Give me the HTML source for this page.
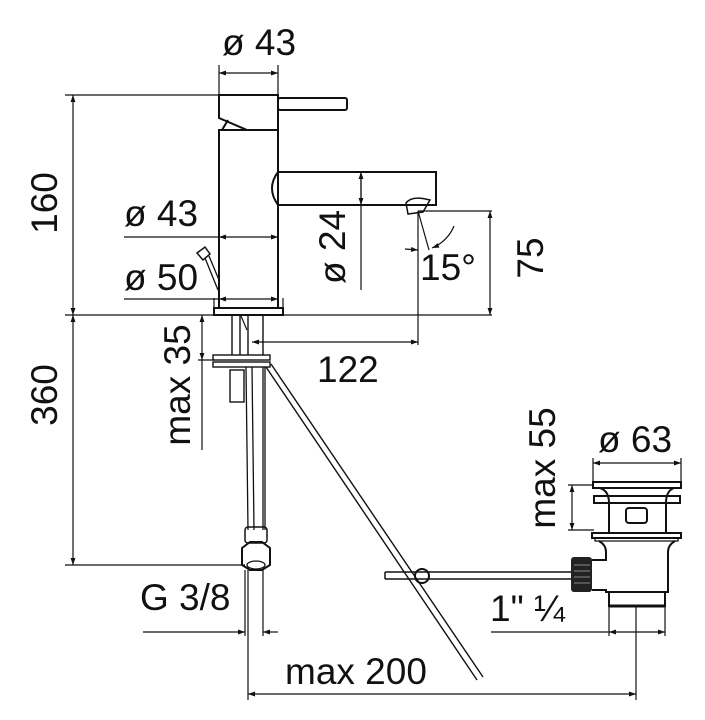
<!DOCTYPE html>
<html><head><meta charset="utf-8"><style>
html,body{margin:0;padding:0;background:#fff;}
svg{display:block;}
text{font-family:"Liberation Sans",sans-serif;fill:#111;font-size:37px;}
</style></head><body>
<svg width="705" height="720" viewBox="0 0 705 720" xmlns="http://www.w3.org/2000/svg">
<defs>
<marker id="a" viewBox="0 0 10 10" refX="10" refY="5" markerWidth="10" markerHeight="7" orient="auto-start-reverse" markerUnits="userSpaceOnUse"><path d="M0,1.5 L10,5 L0,8.5 z" fill="#111"/></marker>
</defs>
<g stroke="#111" fill="none" stroke-width="1.2">
<!-- extension lines -->
<line x1="65" y1="95" x2="219" y2="95"/>
<line x1="65" y1="315" x2="492" y2="315"/>
<line x1="65" y1="565" x2="245" y2="565"/>
<line x1="219" y1="65" x2="219" y2="95"/>
<line x1="278" y1="65" x2="278" y2="95"/>
<line x1="418" y1="211" x2="492" y2="211"/>
<line x1="418" y1="211" x2="418" y2="345"/>
<line x1="214" y1="298" x2="214" y2="308"/>
<line x1="283" y1="298" x2="283" y2="308"/>
<line x1="198" y1="360" x2="215" y2="360"/>
<line x1="202" y1="360" x2="202" y2="450"/>
<line x1="245" y1="570" x2="245" y2="636"/>
<line x1="263" y1="570" x2="263" y2="636"/>
<line x1="248" y1="570" x2="248" y2="700"/>
<line x1="636" y1="607" x2="636" y2="700"/>
<line x1="609" y1="607" x2="609" y2="636"/>
<line x1="665" y1="607" x2="665" y2="636"/>
<line x1="568" y1="485" x2="594" y2="485"/>
<line x1="568" y1="530" x2="594" y2="530"/>
<line x1="593" y1="458" x2="593" y2="482"/>
<line x1="681" y1="458" x2="681" y2="482"/>
<!-- dimension lines -->
<line x1="219" y1="73" x2="278" y2="73" marker-start="url(#a)" marker-end="url(#a)"/>
<line x1="73" y1="95" x2="73" y2="315" marker-start="url(#a)" marker-end="url(#a)"/>
<line x1="73" y1="315" x2="73" y2="565" marker-start="url(#a)" marker-end="url(#a)"/>
<line x1="124" y1="237" x2="219" y2="237"/>
<line x1="219" y1="237" x2="278" y2="237" marker-start="url(#a)" marker-end="url(#a)"/>
<line x1="124" y1="299" x2="219" y2="299"/>
<line x1="219" y1="299" x2="278" y2="299" marker-start="url(#a)" marker-end="url(#a)"/>
<line x1="361" y1="172" x2="361" y2="290"/>
<line x1="361" y1="172" x2="361" y2="205" marker-start="url(#a)" marker-end="url(#a)"/>
<line x1="490" y1="211" x2="490" y2="315" marker-start="url(#a)" marker-end="url(#a)"/>
<line x1="202" y1="315" x2="202" y2="360" marker-start="url(#a)" marker-end="url(#a)"/>
<line x1="252" y1="342" x2="418" y2="342" marker-start="url(#a)" marker-end="url(#a)"/>
<line x1="143" y1="632" x2="245" y2="632" marker-end="url(#a)"/>
<line x1="263" y1="632" x2="278" y2="632" marker-start="url(#a)"/>
<line x1="248" y1="694" x2="636" y2="694" marker-start="url(#a)" marker-end="url(#a)"/>
<line x1="491" y1="632" x2="609" y2="632"/>
<line x1="609" y1="632" x2="665" y2="632" marker-start="url(#a)" marker-end="url(#a)"/>
<line x1="572" y1="485" x2="572" y2="530" marker-start="url(#a)" marker-end="url(#a)"/>
<line x1="593" y1="463" x2="681" y2="463" marker-start="url(#a)" marker-end="url(#a)"/>
<!-- 15 deg -->
<line x1="418" y1="211" x2="429" y2="250"/>
<path d="M454,226 A40,40 0 0 1 432,248" marker-end="url(#a)"/>
<line x1="405" y1="249" x2="418" y2="250" marker-end="url(#a)"/>
</g>
<g stroke="#111" fill="none" stroke-width="2">
<!-- tap -->
<path d="M219,95 L278,95 L278,130 L247,130 L219,118 Z"/>
<path d="M222,130 L228,120"/>
<rect x="278" y="98" width="69" height="12" rx="2"/>
<rect x="219" y="130" width="59" height="178"/>
<rect x="214" y="308" width="69" height="7"/>
<path d="M278,172 L436,172 L436,205 L278,205"/>
<path d="M278,172 Q266,188 278,205"/>
<path d="M406,203 Q412,195 430,200 L423,212 L408,214 Z" stroke-width="1.5"/>
<!-- side valve -->
<path d="M197,253 L205,247 L210,254 L203,260 Z" stroke-width="1.5"/>
<path d="M205,258 L218,290 M209,256 L219,280" stroke-width="1.3"/>
<!-- under parts -->
<path d="M232,315 L232,355 M240,315 L240,355 M248,315 L248,355 M263,315 L263,355" stroke-width="1.4"/>
<path d="M241,316 L247,330" stroke-width="1.2"/>
<rect x="213" y="355" width="57" height="5" stroke-width="1.4"/>
<rect x="213" y="362" width="57" height="5" stroke-width="1.4"/>
<rect x="230" y="370" width="14" height="32" stroke-width="1.4"/>
<path d="M246,367 L248,530 M252,367 L254,530 M263,367 L263,530 M265,367 L265,530" stroke-width="1.3"/>
<rect x="245" y="527" width="22" height="16" rx="3" stroke-width="1.5"/>
<path d="M242,548 L250,542 L262,542 L270,548 L270,565 L262,570 L250,570 L242,565 Z" stroke-width="2"/>
<ellipse cx="256" cy="565" rx="9" ry="4" stroke-width="1.3"/>
<!-- diagonal rod -->
<path d="M266,367 L477,680 M271,364 L483,677" stroke-width="1.4"/>
<!-- horizontal rod -->
<path d="M385,572 L572,572 M385,579 L572,579 M385,572 L385,579" stroke-width="1.5"/>
<circle cx="422" cy="576" r="7" stroke-width="2"/>
<!-- drain -->
<rect x="593" y="482" width="88" height="6"/>
<path d="M600,488 Q609,491 609,503 M674,488 Q666,491 666,503"/>
<rect x="594" y="496" width="86" height="7"/>
<path d="M609,503 L609,533 M666,503 L666,533"/>
<rect x="626" y="508" width="21" height="15" rx="3"/>
<rect x="592" y="533" width="89" height="5"/>
<path d="M595,538 L678,538 L678,541 L595,541 Z" stroke-width="1.3"/>
<path d="M599,541 Q606,545 606,552 L606,560 L592,560 M592,590 L606,590 L606,592 L668,592 L668,552 Q668,545 675,541"/>
<rect x="609" y="592" width="56" height="14"/>
<line x1="609" y1="606" x2="665" y2="606" stroke-width="3"/>
</g>
<rect x="571" y="557" width="21" height="35" rx="3" fill="#222"/>
<g stroke="#888" stroke-width="1"><line x1="574" y1="565" x2="590" y2="565"/><line x1="574" y1="571" x2="590" y2="571"/><line x1="574" y1="577" x2="590" y2="577"/><line x1="574" y1="583" x2="590" y2="583"/></g>
<!-- texts -->
<text x="222" y="55">ø 43</text>
<text x="124" y="226">ø 43</text>
<text x="124" y="290">ø 50</text>
<text x="317" y="382">122</text>
<text x="420" y="280">15°</text>
<text x="140" y="610">G 3/8</text>
<text x="285" y="684">max 200</text>
<text x="490" y="621">1" ¼</text>
<text x="598" y="452">ø 63</text>
<text transform="translate(57,203) rotate(-90)" text-anchor="middle">160</text>
<text transform="translate(57,395) rotate(-90)" text-anchor="middle">360</text>
<text transform="translate(345,247) rotate(-90)" text-anchor="middle">ø 24</text>
<text transform="translate(543,258) rotate(-90)" text-anchor="middle">75</text>
<text transform="translate(190,385) rotate(-90)" text-anchor="middle">max 35</text>
<text transform="translate(555,468) rotate(-90)" text-anchor="middle">max 55</text>
</svg>
</body></html>
